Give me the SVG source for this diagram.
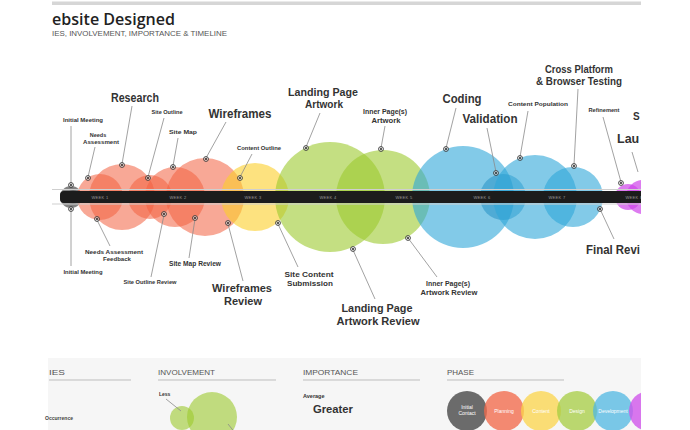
<svg xmlns="http://www.w3.org/2000/svg" xmlns:xlink="http://www.w3.org/1999/xlink" width="690" height="430" viewBox="0 0 690 430">
  <defs>
    <style>
      text { font-family: "Liberation Sans", Arial, sans-serif; fill: #333; font-weight: bold; }
      .lg { font-size: 12.5px; }
      .lg2 { font-size: 11px; }
      .md { font-size: 7.5px; }
      .sm { font-size: 6px; }
      .xs { font-size: 5px; }
      .wk { font-size: 4px; fill: #9a9a9a; font-weight: normal; letter-spacing: .3px; }
      .hd { font-size: 8px; fill: #555; font-weight: normal; }
      .ph { font-size: 5px; fill: #fff; font-weight: normal; }
      .lead { stroke: #8a8a8a; stroke-width: .8; fill: none; }
      .or { fill: #f26140; fill-opacity: .55; }
      .ye { fill: #fbcf2a; fill-opacity: .6; }
      .gr { fill: #9cc92e; fill-opacity: .6; }
      .bl { fill: #2ea6d8; fill-opacity: .6; }
      .bd { fill: #1b8cc2; fill-opacity: .5; }
      .pu { fill: #cf45ea; fill-opacity: .7; }
      .gy { fill: #5a5a5a; fill-opacity: .75; }
      .rule { stroke: #bdbdbd; stroke-width: 1; }
    </style>
    <g id="pin">
      <circle r="2.4" fill="#fff" fill-opacity=".55" stroke="#333" stroke-width=".9"/>
      <circle r="1" fill="#222"/>
    </g>
    <clipPath id="page">
      <rect x="44" y="0" width="597" height="430"/>
    </clipPath>
  </defs>

  <rect width="690" height="430" fill="#fff"/>

  <g clip-path="url(#page)">
    <!-- page header -->
    <rect x="52" y="1.5" width="592" height="3.5" fill="#d6d6d6"/>
    <g id="title">
      <text x="52" y="25" font-size="17" style="font-family:'Open Sans',sans-serif;font-weight:600;fill:#222" textLength="123" lengthAdjust="spacingAndGlyphs">ebsite Designed</text>
      <text x="52" y="35.5" font-size="7" style="fill:#555;font-weight:normal" textLength="175" lengthAdjust="spacingAndGlyphs">IES, INVOLVEMENT, IMPORTANCE &amp; TIMELINE</text>
    </g>

    <!-- task bubbles along the timeline -->
    <g id="bubbles">
      <circle class="gy" cx="71" cy="197" r="11"/>
      <circle class="gy" cx="73" cy="197" r="7"/>
      <circle class="or" cx="100" cy="197" r="23"/>
      <circle class="or" cx="122" cy="197" r="33"/>
      <circle class="or" cx="150" cy="197" r="22"/>
      <circle class="or" cx="175" cy="197" r="30"/>
      <circle class="or" cx="205" cy="197" r="39"/>
      <circle class="ye" cx="255" cy="197" r="34"/>
      <circle class="gr" cx="330" cy="197" r="55"/>
      <circle class="gr" cx="383" cy="197" r="47"/>
      <circle class="bl" cx="463" cy="197" r="51"/>
      <circle class="bd" cx="503" cy="197" r="23"/>
      <circle class="bl" cx="535" cy="197" r="42"/>
      <circle class="bl" cx="573" cy="197" r="30"/>
      <circle class="pu" cx="628" cy="197" r="13"/>
      <circle class="pu" cx="643" cy="197" r="17"/>
    </g>

    <!-- week bar -->
    <g id="timeline">
      <line x1="52" y1="189.5" x2="641" y2="189.5" stroke="#cfcfcf" stroke-width="1"/>
      <line x1="52" y1="204" x2="641" y2="204" stroke="#cfcfcf" stroke-width="1"/>
      <rect x="60" y="191" width="590" height="12" rx="4" fill="#1c1c1c"/>
      <text class="wk" x="100" y="198.5" text-anchor="middle">WEEK 1</text>
      <text class="wk" x="178" y="198.5" text-anchor="middle">WEEK 2</text>
      <text class="wk" x="253" y="198.5" text-anchor="middle">WEEK 3</text>
      <text class="wk" x="328" y="198.5" text-anchor="middle">WEEK 4</text>
      <text class="wk" x="404" y="198.5" text-anchor="middle">WEEK 5</text>
      <text class="wk" x="482" y="198.5" text-anchor="middle">WEEK 6</text>
      <text class="wk" x="557" y="198.5" text-anchor="middle">WEEK 7</text>
      <text class="wk" x="634" y="198.5" text-anchor="middle">WEEK 8</text>
    </g>

    <!-- leader lines -->
    <g id="connectors" class="lead">
      <line x1="71" y1="126" x2="71" y2="184"/>
      <line x1="95" y1="147" x2="88" y2="177"/>
      <line x1="132" y1="106" x2="122" y2="164"/>
      <line x1="164" y1="118" x2="148" y2="177"/>
      <line x1="178" y1="138" x2="173" y2="166"/>
      <line x1="226" y1="122" x2="206" y2="158"/>
      <line x1="252" y1="154" x2="240" y2="177"/>
      <line x1="320" y1="113" x2="306" y2="147"/>
      <line x1="385" y1="126" x2="381" y2="148"/>
      <line x1="456" y1="108" x2="446" y2="148"/>
      <line x1="487" y1="128" x2="496" y2="172"/>
      <line x1="528" y1="111" x2="520" y2="157"/>
      <line x1="578" y1="89" x2="574" y2="165"/>
      <line x1="603" y1="117" x2="621" y2="182"/>
      <line x1="632" y1="152" x2="638" y2="172"/>
      <line x1="71" y1="210" x2="71" y2="266"/>
      <line x1="97" y1="220" x2="110" y2="246"/>
      <line x1="164" y1="215" x2="151" y2="277"/>
      <line x1="195" y1="219" x2="189" y2="258"/>
      <line x1="228" y1="224" x2="243" y2="281"/>
      <line x1="278" y1="224" x2="298" y2="267"/>
      <line x1="353" y1="250" x2="375" y2="299"/>
      <line x1="408" y1="238" x2="437" y2="277"/>
      <line x1="600" y1="209" x2="614" y2="239"/>
    </g>

    <!-- milestones above the bar -->
    <g id="initial-meeting">
      <use xlink:href="#pin" x="71" y="185"/>
      <text class="sm" x="83" y="122" text-anchor="middle" textLength="40" lengthAdjust="spacingAndGlyphs">Initial Meeting</text>
    </g>
    <g id="needs-assessment">
      <use xlink:href="#pin" x="88" y="178"/>
      <text x="98" y="137" font-size="5.5" text-anchor="middle">Needs</text>
      <text x="101" y="143.5" font-size="5.5" text-anchor="middle" textLength="36" lengthAdjust="spacingAndGlyphs">Assessment</text>
    </g>
    <g id="research">
      <use xlink:href="#pin" x="122" y="165"/>
      <text class="lg" x="135" y="102" text-anchor="middle" textLength="48" lengthAdjust="spacingAndGlyphs">Research</text>
    </g>
    <g id="site-outline">
      <use xlink:href="#pin" x="148" y="178"/>
      <text class="xs" x="167" y="114" text-anchor="middle" textLength="31" lengthAdjust="spacingAndGlyphs">Site Outline</text>
    </g>
    <g id="site-map">
      <use xlink:href="#pin" x="173" y="167"/>
      <text class="sm" x="183" y="134" text-anchor="middle" textLength="28" lengthAdjust="spacingAndGlyphs">Site Map</text>
    </g>
    <g id="wireframes">
      <use xlink:href="#pin" x="206" y="159"/>
      <text class="lg" x="240" y="118" text-anchor="middle" textLength="63" lengthAdjust="spacingAndGlyphs">Wireframes</text>
    </g>
    <g id="content-outline">
      <use xlink:href="#pin" x="240" y="178"/>
      <text class="xs" x="259" y="150" text-anchor="middle" textLength="44" lengthAdjust="spacingAndGlyphs">Content Outline</text>
    </g>
    <g id="landing-page-artwork">
      <use xlink:href="#pin" x="306" y="148"/>
      <text class="lg2" x="323" y="95.5" text-anchor="middle" textLength="70" lengthAdjust="spacingAndGlyphs">Landing Page</text>
      <text class="lg2" x="324" y="108" text-anchor="middle" textLength="38" lengthAdjust="spacingAndGlyphs">Artwork</text>
    </g>
    <g id="inner-pages-artwork">
      <use xlink:href="#pin" x="381" y="149"/>
      <text class="md" x="385" y="113.5" text-anchor="middle" textLength="44" lengthAdjust="spacingAndGlyphs">Inner Page(s)</text>
      <text class="md" x="386" y="122.5" text-anchor="middle" textLength="29" lengthAdjust="spacingAndGlyphs">Artwork</text>
    </g>
    <g id="coding">
      <use xlink:href="#pin" x="446" y="149"/>
      <text class="lg" x="462" y="103" text-anchor="middle" textLength="39" lengthAdjust="spacingAndGlyphs">Coding</text>
    </g>
    <g id="validation">
      <use xlink:href="#pin" x="496" y="173"/>
      <text class="lg" x="490" y="123" text-anchor="middle" textLength="55" lengthAdjust="spacingAndGlyphs">Validation</text>
    </g>
    <g id="content-population">
      <use xlink:href="#pin" x="520" y="158"/>
      <text class="sm" x="538" y="106" text-anchor="middle" textLength="60" lengthAdjust="spacingAndGlyphs">Content Population</text>
    </g>
    <g id="cross-platform-testing">
      <use xlink:href="#pin" x="574" y="166"/>
      <text x="579" y="73" text-anchor="middle" font-size="10" textLength="68" lengthAdjust="spacingAndGlyphs">Cross Platform</text>
      <text x="579" y="85" text-anchor="middle" font-size="10" textLength="86" lengthAdjust="spacingAndGlyphs">&amp; Browser Testing</text>
    </g>
    <g id="refinement">
      <use xlink:href="#pin" x="621" y="183"/>
      <text class="xs" x="604" y="112" text-anchor="middle" textLength="31" lengthAdjust="spacingAndGlyphs">Refinement</text>
    </g>
    <g id="site-launch">
      <text x="633" y="120" font-size="10">S</text>
    </g>
    <g id="launch">
      <text class="lg" x="617" y="143">Lau</text>
    </g>

    <!-- milestones below the bar -->
    <g id="initial-meeting-review">
      <use xlink:href="#pin" x="71" y="209"/>
      <text class="sm" x="83" y="274" text-anchor="middle" textLength="39" lengthAdjust="spacingAndGlyphs">Initial Meeting</text>
    </g>
    <g id="needs-assessment-feedback">
      <use xlink:href="#pin" x="97" y="219"/>
      <text x="114" y="254" text-anchor="middle" font-size="6" textLength="58" lengthAdjust="spacingAndGlyphs">Needs Assessment</text>
      <text x="117" y="261" text-anchor="middle" font-size="6" textLength="28" lengthAdjust="spacingAndGlyphs">Feedback</text>
    </g>
    <g id="site-outline-review">
      <use xlink:href="#pin" x="164" y="214"/>
      <text class="sm" x="150" y="284" text-anchor="middle" textLength="53" lengthAdjust="spacingAndGlyphs">Site Outline Review</text>
    </g>
    <g id="site-map-review">
      <use xlink:href="#pin" x="195" y="218"/>
      <text x="195" y="266" text-anchor="middle" font-size="7" textLength="52" lengthAdjust="spacingAndGlyphs">Site Map Review</text>
    </g>
    <g id="wireframes-review">
      <use xlink:href="#pin" x="228" y="223"/>
      <text class="lg2" x="242" y="292" text-anchor="middle" textLength="60" lengthAdjust="spacingAndGlyphs">Wireframes</text>
      <text class="lg2" x="243" y="305" text-anchor="middle" textLength="38" lengthAdjust="spacingAndGlyphs">Review</text>
    </g>
    <g id="site-content-submission">
      <use xlink:href="#pin" x="278" y="223"/>
      <text class="md" x="309" y="277" text-anchor="middle" textLength="49" lengthAdjust="spacingAndGlyphs">Site Content</text>
      <text class="md" x="310" y="286" text-anchor="middle" textLength="46" lengthAdjust="spacingAndGlyphs">Submission</text>
    </g>
    <g id="landing-page-artwork-review">
      <use xlink:href="#pin" x="353" y="249"/>
      <text class="lg2" x="377" y="312" text-anchor="middle" textLength="71" lengthAdjust="spacingAndGlyphs">Landing Page</text>
      <text class="lg2" x="378" y="325" text-anchor="middle" textLength="83" lengthAdjust="spacingAndGlyphs">Artwork Review</text>
    </g>
    <g id="inner-pages-artwork-review">
      <use xlink:href="#pin" x="408" y="238"/>
      <text class="md" x="448" y="285.5" text-anchor="middle" textLength="44" lengthAdjust="spacingAndGlyphs">Inner Page(s)</text>
      <text class="md" x="449" y="294.5" text-anchor="middle" textLength="57" lengthAdjust="spacingAndGlyphs">Artwork Review</text>
    </g>
    <g id="final-review">
      <use xlink:href="#pin" x="600" y="209"/>
      <text class="lg" x="586" y="254" textLength="54" lengthAdjust="spacingAndGlyphs">Final Revi</text>
    </g>

    <!-- key -->
    <g id="legend">
      <rect x="48" y="358" width="600" height="72" fill="#f6f6f6"/>
      <text class="hd" x="49" y="375" textLength="16" lengthAdjust="spacingAndGlyphs">IES</text>
      <line class="rule" x1="49" y1="380" x2="131" y2="380"/>
      <text class="hd" x="158" y="375" textLength="57" lengthAdjust="spacingAndGlyphs">INVOLVEMENT</text>
      <line class="rule" x1="158" y1="380" x2="276" y2="380"/>
      <text class="hd" x="303" y="375" textLength="55" lengthAdjust="spacingAndGlyphs">IMPORTANCE</text>
      <line class="rule" x1="303" y1="380" x2="420" y2="380"/>
      <text class="hd" x="447" y="375" textLength="27" lengthAdjust="spacingAndGlyphs">PHASE</text>
      <line class="rule" x1="447" y1="380" x2="564" y2="380"/>
    </g>
    <g id="legend-occurrence">
      <text x="45" y="420" font-size="5" style="fill:#444" textLength="28" lengthAdjust="spacingAndGlyphs">Occurrence</text>
    </g>
    <g id="legend-involvement">
      <circle class="gr" cx="182" cy="418" r="12"/>
      <circle class="gr" cx="212" cy="417" r="25"/>
      <line class="lead" x1="166" y1="399" x2="181" y2="411"/>
      <line class="lead" x1="228" y1="424" x2="236" y2="434"/>
      <text x="159" y="396" font-size="5">Less</text>
    </g>
    <g id="legend-importance">
      <text x="303" y="398" font-size="5.5">Average</text>
      <text x="313" y="413" font-size="11.5" textLength="40" lengthAdjust="spacingAndGlyphs">Greater</text>
    </g>
    <g id="legend-phase">
      <circle cx="467" cy="411" r="20" fill="#5c5c5c" fill-opacity=".9"/>
      <circle cx="504" cy="411" r="20" fill="#f26a4c" fill-opacity=".78"/>
      <circle cx="541" cy="411" r="20" fill="#fbd44a" fill-opacity=".75"/>
      <circle cx="577" cy="411" r="20" fill="#a5cc42" fill-opacity=".75"/>
      <circle cx="613" cy="411" r="20" fill="#4fb7e2" fill-opacity=".75"/>
      <circle cx="649" cy="411" r="20" fill="#cf52ea" fill-opacity=".78"/>
      <text class="ph" x="467" y="409" text-anchor="middle">Initial</text>
      <text class="ph" x="467" y="415" text-anchor="middle">Contact</text>
      <text class="ph" x="504" y="413" text-anchor="middle">Planning</text>
      <text class="ph" x="541" y="413" text-anchor="middle">Content</text>
      <text class="ph" x="577" y="413" text-anchor="middle">Design</text>
      <text class="ph" x="613" y="413" text-anchor="middle">Development</text>
    </g>
  </g>
</svg>
